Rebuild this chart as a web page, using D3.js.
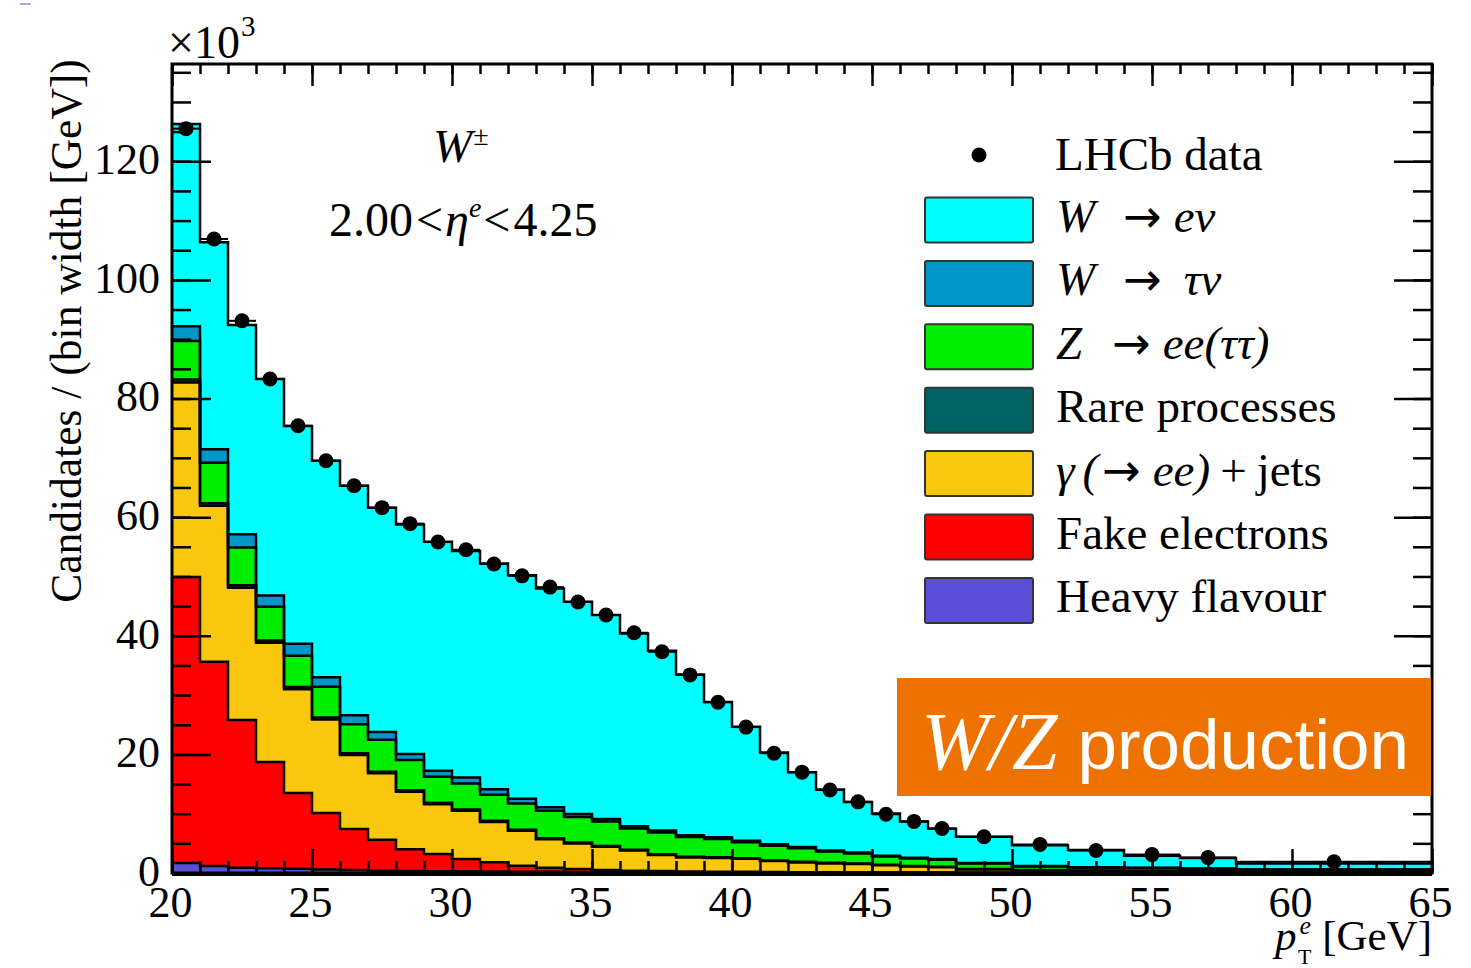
<!DOCTYPE html>
<html>
<head>
<meta charset="utf-8">
<script src="https://cdn.jsdelivr.net/npm/d3@7"></script>
<style>
  html,body{margin:0;padding:0;background:#fff;}
  svg{display:block;}
  text{white-space:pre;}
</style>
</head>
<body>
<svg id="chart" width="1471" height="968"></svg>
<script>
// ---------------- DATA ----------------
const binEdges = [20,21,22,23,24,25,26,27,28,29,30,31,32,33,34,35,36,37,38,39,40,41,42,43,44,45,46,47,48,50,52,54,56,58,65];

const heavyFlavour  = [1.7,1.2,0.9,0.8,0.7,0.6,0.5,0.4,0.35,0.3,0.28,0.25,0.22,0.2,0.18,0.16,0.14,0.12,0.1,0.1,0.09,0.08,0.07,0.06,0.05,0.05,0.04,0.04,0.03,0.03,0.02,0.02,0.02,0.01];
const fakeElectrons = [48.2,34.4,24.9,17.9,12.8,9.5,6.9,5.2,3.65,2.9,2.1,1.55,1.0,0.7,0.5,0.35,0.25,0.2,0.15,0.12,0.1,0.08,0.07,0.06,0.05,0.05,0.04,0.04,0.03,0.03,0.02,0.02,0.02,0.01];
const gammaJets     = [32.8,26.3,22.3,20.1,17.5,15.8,12.5,11.2,9.7,8.4,8.1,6.8,5.9,4.8,4.3,3.9,3.4,2.7,2.35,2.3,2.2,1.85,1.65,1.5,1.4,1.2,1.0,0.9,0.55,0.4,0.32,0.28,0.23,0.14];
const rareProcesses = [0.5,0.45,0.4,0.38,0.35,0.32,0.3,0.28,0.26,0.24,0.22,0.2,0.19,0.18,0.17,0.16,0.15,0.14,0.13,0.12,0.11,0.1,0.1,0.09,0.09,0.08,0.08,0.07,0.06,0.05,0.05,0.04,0.04,0.03];
const zToEE         = [6.5,6.8,6.4,5.7,5.3,5.2,4.9,5.4,5.1,4.4,4.4,4.4,4.4,4.6,4.3,4.1,3.55,3.65,3.35,3.1,2.7,2.5,2.3,1.9,1.7,1.4,1.3,1.2,0.95,0.6,0.5,0.5,0.4,0.4];
const wToTauNu      = [2.5,2.3,2.2,1.9,2.0,1.6,1.5,1.3,1.0,1.0,1.0,0.9,0.8,0.6,0.5,0.45,0.4,0.35,0.3,0.3,0.25,0.22,0.2,0.18,0.16,0.14,0.12,0.1,0.08,0.06,0.05,0.04,0.03,0.02];
const wToENu        = [34.1,34.9,35.3,36.5,36.7,36.5,38.7,37.8,38.7,38.6,38.2,38.1,37.7,36.9,35.8,34.4,32.5,30.3,27.1,22.8,19.2,15.5,12.6,10.3,8.5,7.1,6.1,5.1,4.4,3.5,2.9,2.0,1.8,1.0];
const lhcbData      = [125.5,106.9,93.1,83.3,75.4,69.5,65.3,61.6,58.9,55.8,54.5,52.1,50.1,48.2,45.7,43.5,40.5,37.3,33.4,28.8,24.6,20.2,17.0,14.0,12.0,9.9,8.7,7.5,6.1,4.8,3.8,3.1,2.6,1.9];

const xMajorTicks = [20,25,30,35,40,45,50,55,60,65];
const xMinorTicks = d3.range(20,66,1);
const yMajorTicks = [0,20,40,60,80,100,120];
const yMinorTicks = d3.range(0,136,5);

const seriesKeys   = ["heavy","fake","gamma","rare","zee","wtau","wenu"];
const seriesColors = {heavy:"#5A4FD6", fake:"#FF0000", gamma:"#F9C80E", rare:"#006363", zee:"#00EE00", wtau:"#0096C8", wenu:"#00FFFF"};

// ---------------- LAYOUT ----------------
const svg = d3.select("#chart");
const X0 = 172, X1 = 1432, Y0 = 873, Y1 = 64;
const x = d3.scaleLinear().domain([20,65]).range([X0,X1]);
const y = d3.scaleLinear().domain([0,136.4]).range([Y0,Y1]);
const serif = "'Liberation Serif','Times New Roman',serif";
const arrowFont = "'DejaVu Sans',sans-serif";

// table for the stack
const rows = binEdges.slice(0,-1).map((e,i)=>({
  lo:e, hi:binEdges[i+1],
  heavy:heavyFlavour[i], fake:fakeElectrons[i], gamma:gammaJets[i], rare:rareProcesses[i],
  zee:zToEE[i], wtau:wToTauNu[i], wenu:wToENu[i], data:lhcbData[i]
}));
const stacked = d3.stack().keys(seriesKeys)(rows);

function stepPoints(layer){
  const pts = [];
  layer.forEach(d=>{
    pts.push({x:d.data.lo, y0:d[0], y1:d[1]});
    pts.push({x:d.data.hi, y0:d[0], y1:d[1]});
  });
  return pts;
}
const area = d3.area().x(p=>x(p.x)).y0(p=>y(p.y0)).y1(p=>y(p.y1));
const topLine = d3.line().x(p=>x(p.x)).y(p=>y(p.y1));

const gHist = svg.append("g");
gHist.selectAll("path.fill").data(stacked).join("path")
  .attr("class","fill")
  .attr("d",l=>area(stepPoints(l)))
  .attr("fill",l=>seriesColors[l.key])
  .attr("stroke","none");
gHist.selectAll("path.outline").data(stacked).join("path")
  .attr("class","outline")
  .attr("d",l=>topLine(stepPoints(l)))
  .attr("fill","none")
  .attr("stroke","#000")
  .attr("stroke-width",2.5);

// data points
const gData = svg.append("g");
gData.selectAll("line.xerr").data(rows).join("line")
  .attr("x1",d=>x(d.lo)).attr("x2",d=>x(d.hi))
  .attr("y1",d=>y(d.data)).attr("y2",d=>y(d.data))
  .attr("stroke","#000").attr("stroke-width",2);
gData.selectAll("circle").data(rows).join("circle")
  .attr("cx",d=>x((d.lo+d.hi)/2)).attr("cy",d=>y(d.data))
  .attr("r",7.5).attr("fill","#000");

// ---------------- AXES ----------------
function styleAxis(g, fontSize){
  g.select(".domain").remove();
  g.selectAll(".tick line").attr("stroke","#000").attr("stroke-width",2.5);
  g.selectAll("text").attr("font-family",serif).attr("font-size",fontSize).attr("fill","#000");
}
// bottom
const gxMin = svg.append("g").attr("transform",`translate(0,${Y0})`)
  .call(d3.axisBottom(x).tickValues(xMinorTicks).tickSize(-12).tickFormat(""));
styleAxis(gxMin,0);
const gx = svg.append("g").attr("transform",`translate(0,${Y0})`)
  .call(d3.axisBottom(x).tickValues(xMajorTicks).tickSize(-24).tickPadding(13).tickFormat(d3.format("d")));
styleAxis(gx,44);
gx.selectAll(".tick text").attr("dx",-2);
// top
const gtMin = svg.append("g").attr("transform",`translate(0,${Y1})`)
  .call(d3.axisTop(x).tickValues(xMinorTicks).tickSize(-10).tickFormat(""));
styleAxis(gtMin,0);
const gt = svg.append("g").attr("transform",`translate(0,${Y1})`)
  .call(d3.axisTop(x).tickValues(xMajorTicks).tickSize(-22).tickFormat(""));
styleAxis(gt,0);
// left
const gyMin = svg.append("g").attr("transform",`translate(${X0},0)`)
  .call(d3.axisLeft(y).tickValues(yMinorTicks).tickSize(-19).tickFormat(""));
styleAxis(gyMin,0);
const gy = svg.append("g").attr("transform",`translate(${X0},0)`)
  .call(d3.axisLeft(y).tickValues(yMajorTicks).tickSize(-39).tickPadding(12).tickFormat(d3.format("d")));
styleAxis(gy,44);
gy.selectAll(".tick text").attr("dy","0.28em");
// right
const grMin = svg.append("g").attr("transform",`translate(${X1},0)`)
  .call(d3.axisRight(y).tickValues(yMinorTicks).tickSize(-19).tickFormat(""));
styleAxis(grMin,0);
const gr = svg.append("g").attr("transform",`translate(${X1},0)`)
  .call(d3.axisRight(y).tickValues(yMajorTicks).tickSize(-38).tickFormat(""));
styleAxis(gr,0);

// frame
svg.append("rect").attr("x",X0).attr("y",Y1).attr("width",X1-X0).attr("height",Y0-Y1)
  .attr("fill","none").attr("stroke","#000").attr("stroke-width",3);
svg.append("line").attr("x1",X0).attr("x2",X1).attr("y1",Y0+1).attr("y2",Y0+1)
  .attr("stroke","#000").attr("stroke-width",4);

// ---------------- TEXTS ----------------
// x10^3
const exp = svg.append("text").attr("x",168).attr("y",58).attr("font-family",serif).attr("font-size",46);
exp.append("tspan").text("×10");
exp.append("tspan").attr("font-size",29).attr("dx",1).attr("dy",-22).text("3");

// y title
svg.append("text")
  .attr("transform","translate(81,331) rotate(-90)")
  .attr("text-anchor","middle").attr("font-family",serif).attr("font-size",43.5)
  .text("Candidates / (bin width [GeV])");

// x title
const xt = svg.append("text").attr("x",1432).attr("y",950).attr("text-anchor","end")
  .attr("font-family",serif).attr("font-size",43);
xt.append("tspan").attr("font-style","italic").text("p");
xt.append("tspan").attr("font-style","italic").attr("font-size",26).attr("dx",3).attr("dy",-16).text("e");
xt.append("tspan").attr("font-size",22).attr("dx",-13).attr("dy",30).text("T");
xt.append("tspan").attr("dy",-14).text(" [GeV]");

// W±
const wpm = svg.append("text").attr("x",433).attr("y",162).attr("font-family",serif).attr("font-size",47);
wpm.append("tspan").attr("font-style","italic").text("W");
wpm.append("tspan").attr("font-size",28).attr("dx",1).attr("dy",-17).text("±");

// eta range
const eta = svg.append("text").attr("x",329).attr("y",236).attr("font-family",serif).attr("font-size",48);
eta.append("tspan").text("2.00");
eta.append("tspan").attr("dx",3).text("<");
eta.append("tspan").attr("dx",2).attr("font-style","italic").text("η");
eta.append("tspan").attr("font-style","italic").attr("font-size",28).attr("dy",-19).text("e");
eta.append("tspan").attr("dx",2).attr("dy",19).text("<");
eta.append("tspan").attr("dx",3).text("4.25");

// ---------------- LEGEND ----------------
// parts: [text, style, dx] style: 0 normal, 1 italic, 2 arrow
const legendItems = [
  {key:"wenu",  parts:[["W",1,0],["→",2,28],["eν",1,12]]},
  {key:"wtau",  parts:[["W",1,0],["→",2,28],["τν",1,22]]},
  {key:"zee",   parts:[["Z",1,0],["→",2,30],["ee(ττ)",1,12]]},
  {key:"rare",  parts:[["Rare processes",0,0]]},
  {key:"gamma", parts:[["γ",1,0],["(",1,8],["→",2,4],["ee",1,12],[")",1,0],["+",0,10],["jets",0,10]]},
  {key:"fake",  parts:[["Fake electrons",0,0]]},
  {key:"heavy", parts:[["Heavy flavour",0,0]]}
];
const gLeg = svg.append("g");
gLeg.append("circle").attr("cx",979).attr("cy",155).attr("r",7.5).attr("fill","#000");
gLeg.append("text").attr("x",1055).attr("y",170).attr("font-family",serif).attr("font-size",47).text("LHCb data");
legendItems.forEach((it,i)=>{
  const cy = 220 + i*63.4;
  gLeg.append("rect").attr("x",925).attr("y",cy-22.5).attr("width",108).attr("height",45)
    .attr("rx",2).attr("fill",seriesColors[it.key]).attr("stroke","#333").attr("stroke-width",2);
  const t = gLeg.append("text").attr("x",1056).attr("y",cy+12).attr("font-family",serif).attr("font-size",47);
  it.parts.forEach(p=>{
    const s = t.append("tspan").attr("dx",p[2]).text(p[0]);
    if(p[1]===1) s.attr("font-style","italic");
    if(p[1]===2) s.attr("font-family",arrowFont).attr("font-size",46);
  });
});

// ---------------- ORANGE BANNER ----------------
svg.append("rect").attr("x",897).attr("y",678).attr("width",534).attr("height",118).attr("fill","#EE7200");
const ban = svg.append("text").attr("x",921).attr("y",769).attr("fill","#fff");
ban.append("tspan").attr("font-family",serif).attr("font-style","italic").attr("font-size",82).text("W/Z");
ban.append("tspan").attr("font-family","'Liberation Sans',Arial,sans-serif").attr("font-size",71).text(" production");

// small artifact mark top-left
svg.append("line").attr("x1",20).attr("x2",31).attr("y1",4).attr("y2",4).attr("stroke","#7f95d6").attr("stroke-width",1.5);
</script>
</body>
</html>
